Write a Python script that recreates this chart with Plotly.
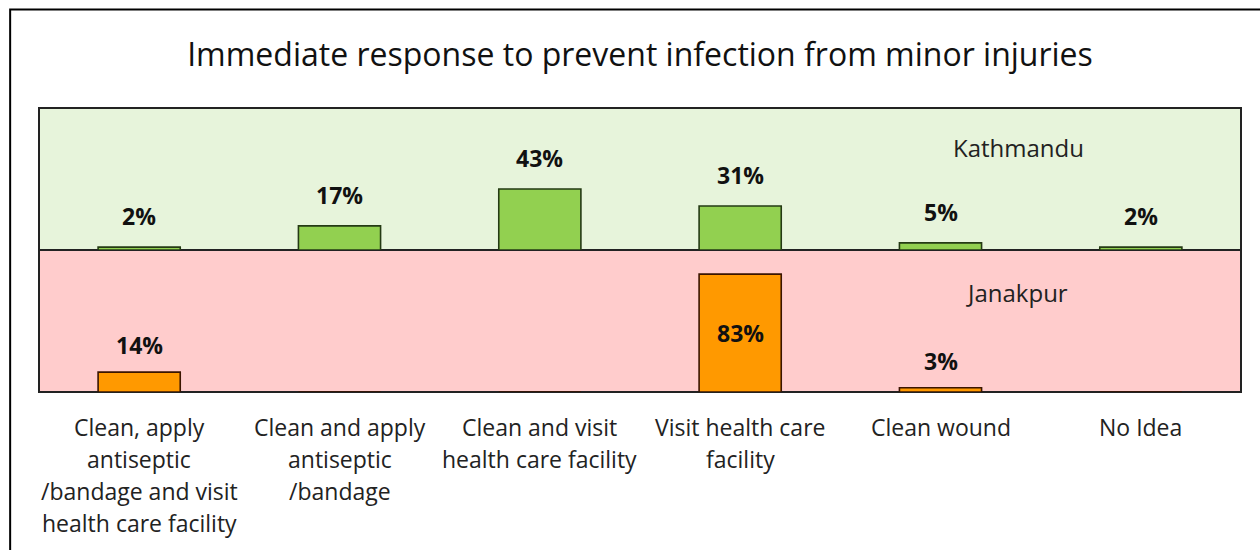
import plotly.graph_objects as go
from plotly.subplots import make_subplots

categories = [
    "Clean, apply<br>antiseptic<br>/bandage and visit<br>health care facility",
    "Clean and apply<br>antiseptic<br>/bandage",
    "Clean and visit<br>health care facility",
    "Visit health care<br>facility",
    "Clean wound",
    "No Idea",
]
kathmandu = [2, 17, 43, 31, 5, 2]
janakpur = [14, 0, 0, 83, 3, 0]
title_text = "Immediate response to prevent infection from minor injuries"

FONT = "Open Sans"
x_idx = list(range(len(categories)))

fig = make_subplots(rows=2, cols=1, shared_xaxes=True, vertical_spacing=0)

fig.add_trace(go.Bar(
    x=x_idx, y=kathmandu, width=0.41,
    marker=dict(color="#92D050", line=dict(color="#253a14", width=1.6)),
    showlegend=False, hoverinfo="skip"), row=1, col=1)
fig.add_trace(go.Bar(
    x=x_idx, y=janakpur, width=0.41,
    marker=dict(color="#FF9900", line=dict(color="#3a1500", width=1.6)),
    showlegend=False, hoverinfo="skip"), row=2, col=1)

annotations = []
# value labels
for i, v in enumerate(kathmandu):
    if v > 0:
        annotations.append(dict(x=i, y=v, xref="x", yref="y", text=f"<b>{v}%</b>",
                                showarrow=False, yanchor="bottom", yshift=13,
                                font=dict(family=FONT, size=23, color="#111")))
for i, v in enumerate(janakpur):
    if v > 0:
        if v > 50:
            annotations.append(dict(x=i, y=v / 2, xref="x2", yref="y2", text=f"<b>{v}%</b>",
                                    showarrow=False, yanchor="middle",
                                    font=dict(family=FONT, size=23, color="#111")))
        else:
            annotations.append(dict(x=i, y=v, xref="x2", yref="y2", text=f"<b>{v}%</b>",
                                    showarrow=False, yanchor="bottom", yshift=9,
                                    font=dict(family=FONT, size=23, color="#111")))
# panel names
annotations.append(dict(x=0.815, y=0.72, xref="x domain", yref="y domain", text="Kathmandu",
                        showarrow=False, xanchor="center", yanchor="middle",
                        font=dict(family=FONT, size=24, color="#222")))
annotations.append(dict(x=0.814, y=0.70, xref="x2 domain", yref="y2 domain", text="Janakpur",
                        showarrow=False, xanchor="center", yanchor="middle",
                        font=dict(family=FONT, size=24, color="#222")))
# category labels, one line each
for i, cat in enumerate(categories):
    for j, line in enumerate(cat.split("<br>")):
        annotations.append(dict(x=i, y=0, xref="x2", yref="paper", text=line,
                                showarrow=False, xanchor="center", yanchor="middle",
                                yshift=-35 - 32 * j,
                                font=dict(family=FONT, size=23, color="#222")))

shapes = [
    dict(type="rect", xref="x domain", yref="y domain", x0=0, x1=1, y0=0, y1=1,
         fillcolor="#E7F4DB", line=dict(color="#222", width=2), layer="below"),
    dict(type="rect", xref="x2 domain", yref="y2 domain", x0=0, x1=1, y0=0, y1=1,
         fillcolor="#FFCCCC", line=dict(color="#222", width=2), layer="below"),
    dict(type="rect", xref="paper", yref="paper", x0=-0.024, x1=1.1, y0=-0.7, y1=1.347,
         fillcolor="rgba(0,0,0,0)", line=dict(color="#000", width=2)),
]

fig.update_layout(
    width=1260, height=550,
    margin=dict(l=39, r=19, t=108, b=158),
    paper_bgcolor="white", plot_bgcolor="rgba(0,0,0,0)",
    title=dict(text=title_text, x=0.5, xref="paper", y=0.9, yanchor="middle",
               font=dict(family=FONT, size=32, color="#111")),
    annotations=annotations, shapes=shapes, bargap=0.59,
    font=dict(family=FONT),
)
fig.update_xaxes(range=[-0.5, 5.5], showticklabels=False, showgrid=False, zeroline=False,
                 showline=False, ticks="")
fig.update_yaxes(range=[0, 100], visible=False, showgrid=False, zeroline=False)

fig.write_html("out.html")
